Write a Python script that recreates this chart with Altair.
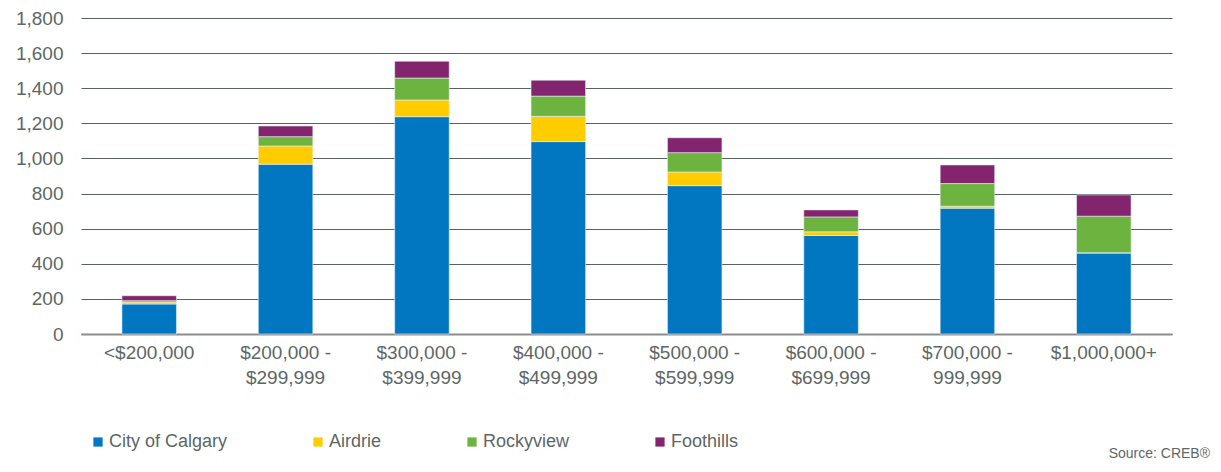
import altair as alt
import pandas as pd

categories = ["<$200,000", "$200,000 -\n$299,999", "$300,000 -\n$399,999", "$400,000 -\n$499,999",
              "$500,000 -\n$599,999", "$600,000 -\n$699,999", "$700,000 -\n999,999", "$1,000,000+"]
series = ["City of Calgary", "Airdrie", "Rockyview", "Foothills"]
calgary = [171, 967, 1238, 1096, 845, 561, 717, 461]
airdrie = [11, 104, 95, 144, 78, 21, 11, 2]
rockyview = [8, 53, 125, 115, 110, 85, 129, 208]
foothills = [28, 61, 96, 91, 85, 40, 106, 121]
colors = ["#0077C0", "#FFCC00", "#6DB33F", "#83246F"]
y_ticks = [0, 200, 400, 600, 800, 1000, 1200, 1400, 1600, 1800]

rows = []
for s_i, (name, vals) in enumerate(zip(series, [calgary, airdrie, rockyview, foothills])):
    for cat, v in zip(categories, vals):
        rows.append({"range": cat, "region": name, "count": v, "order": s_i})
df = pd.DataFrame(rows)

FONT = "Liberation Sans"
TXT = "#5d6764"

chart = alt.Chart(df).mark_bar(stroke="#e8f2f7", strokeWidth=0.6).encode(
    x=alt.X("range:N", sort=categories, title=None,
            scale=alt.Scale(paddingInner=0.6, paddingOuter=0.3),
            axis=alt.Axis(labelAngle=0, labelExpr="split(datum.value, '\\n')",
                          labelFontSize=19, labelColor=TXT, labelFont=FONT,
                          labelLineHeight=25, labelPadding=9, ticks=False, grid=False,
                          domain=True, domainColor="#8c8c8c", domainWidth=2,
                          labelBaseline="top")),
    y=alt.Y("count:Q", title=None, stack="zero",
            scale=alt.Scale(domain=[0, 1800], nice=False),
            axis=alt.Axis(values=y_ticks, format=",d", labelFontSize=19, labelColor=TXT,
                          labelFont=FONT, ticks=False, domain=False, labelPadding=18,
                          grid=True, gridColor="#56635f", gridWidth=1.2)),
    color=alt.Color("region:N", scale=alt.Scale(domain=series, range=colors),
                    legend=alt.Legend(title=None, orient="none", legendX=8, legendY=415,
                                      direction="horizontal", columns=4, symbolType="square",
                                      symbolSize=85, symbolStrokeWidth=0, labelFontSize=18,
                                      labelColor=TXT, labelFont=FONT, labelOffset=2,
                                      columnPadding=81, symbolOffset=0)),
    order=alt.Order("order:Q", sort="ascending"),
).properties(
    width=1091, height=316,
    padding={"left": 73, "top": 10, "right": 40, "bottom": 130},
    autosize=alt.AutoSizeParams(type="none"),
    title=alt.TitleParams("Source: CREB®", orient="bottom", anchor="end", fontSize=14,
                          font=FONT, color=TXT, fontWeight="normal", offset=0, dx=38, dy=-4),
).configure_view(stroke=None)

chart.save("out.html", embed_options={"renderer": "svg", "actions": False})
